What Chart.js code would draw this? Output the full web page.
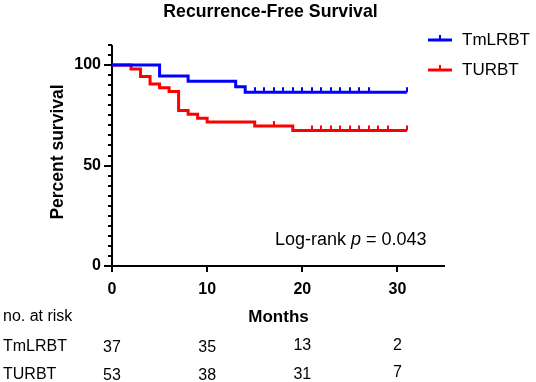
<!DOCTYPE html>
<html>
<head>
<meta charset="utf-8">
<script src="https://cdn.jsdelivr.net/npm/chart.js@4"></script>
<style>
html,body{margin:0;padding:0;background:#fff;}
#wrap{width:536px;height:382px;position:relative;}
</style>
</head>
<body>
<div id="wrap"><canvas id="c"></canvas></div>
<script>
// ---- data ----
const groups = ['TmLRBT', 'TURBT'];
const tmTimes = [0, 5, 8, 13, 14, 31];
const tmSurv  = [100, 94.6, 91.9, 89.2, 86.5, 86.5];
const tuTimes = [0, 2, 3, 4, 5, 6, 7, 8, 9, 10, 15, 19, 31];
const tuSurv  = [100, 98.1, 94.3, 90.6, 88.7, 86.8, 77.4, 75.5, 73.6, 71.7, 69.7, 67.4, 67.4];
const tmCensor = [15, 16, 17, 18, 19, 20, 21, 22, 23, 24, 25, 26, 27, 31];
const tuCensor = [17, 21, 22, 23, 24, 25, 26, 27, 28, 29, 31];
const xTickVals = [0, 10, 20, 30];
const yTickVals = [0, 50, 100];
const riskTm = [37, 35, 13, 2];
const riskTu = [53, 38, 31, 7];
const colors = ['#0000FF', '#FF0000'];

const FONT = '"Liberation Sans", Arial, sans-serif';

function pts(t, s) { return t.map((v, i) => ({x: v, y: s[i]})); }
function survAt(times, surv, t) {
  let v = surv[0];
  for (let i = 0; i < times.length; i++) if (times[i] <= t) v = surv[i];
  return v;
}

const deco = {
  id: 'deco',
  beforeDatasetsDraw(chart) {
    const ctx = chart.ctx, xs = chart.scales.x, ys = chart.scales.y;
    const x0 = xs.getPixelForValue(0), y0 = ys.getPixelForValue(0);
    ctx.save();
    ctx.strokeStyle = '#000'; ctx.lineWidth = 2; ctx.lineCap = 'butt';
    ctx.beginPath();
    ctx.moveTo(x0, ys.getPixelForValue(110)); ctx.lineTo(x0, y0 + 1); ctx.stroke();
    for (let v = 0; v <= 110; v += 5) {
      const y = Math.round(ys.getPixelForValue(v));
      const len = (v % 50 === 0) ? 8 : 4;
      ctx.beginPath(); ctx.moveTo(x0 - len, y); ctx.lineTo(x0, y); ctx.stroke();
    }
    ctx.beginPath();
    ctx.moveTo(x0 - 1, y0); ctx.lineTo(xs.getPixelForValue(35), y0); ctx.stroke();
    xTickVals.forEach(v => {
      const x = Math.round(xs.getPixelForValue(v));
      ctx.beginPath(); ctx.moveTo(x, y0); ctx.lineTo(x, y0 + 6); ctx.stroke();
    });
    ctx.restore();
  },
  afterDatasetsDraw(chart) {
    const ctx = chart.ctx, xs = chart.scales.x, ys = chart.scales.y;
    ctx.save();
    const cens = [[tmCensor, tmTimes, tmSurv], [tuCensor, tuTimes, tuSurv]];
    cens.forEach((c, k) => {
      ctx.strokeStyle = colors[k]; ctx.lineWidth = 2;
      c[0].forEach(t => {
        const x = Math.round(xs.getPixelForValue(t));
        const y = ys.getPixelForValue(survAt(c[1], c[2], t));
        ctx.beginPath(); ctx.moveTo(x, y); ctx.lineTo(x, y - 5); ctx.stroke();
      });
    });
    ctx.fillStyle = '#000';
    ctx.font = 'bold 16px ' + FONT;
    ctx.textAlign = 'right'; ctx.textBaseline = 'middle';
    yTickVals.forEach(v => ctx.fillText(String(v), 101, ys.getPixelForValue(v)));
    ctx.textAlign = 'center'; ctx.textBaseline = 'alphabetic';
    xTickVals.forEach(v => ctx.fillText(String(v), xs.getPixelForValue(v), 294));
    ctx.font = 'bold 17px ' + FONT;
    ctx.fillText('Months', xs.getPixelForValue(17.5), 322);
    ctx.save();
    ctx.font = 'bold 17.5px ' + FONT;
    ctx.translate(63, 152); ctx.rotate(-Math.PI / 2);
    ctx.textBaseline = 'alphabetic';
    ctx.fillText('Percent survival', 0, 0);
    ctx.restore();
    ctx.font = 'bold 17.7px ' + FONT;
    ctx.fillText('Recurrence-Free Survival', 270.5, 17);
    ctx.font = '17px ' + FONT;
    ctx.textAlign = 'left'; ctx.textBaseline = 'middle';
    const legY = [40, 70];
    groups.forEach((g, k) => {
      ctx.strokeStyle = colors[k]; ctx.lineWidth = 3;
      ctx.beginPath(); ctx.moveTo(428, legY[k]); ctx.lineTo(452, legY[k]); ctx.stroke();
      ctx.lineWidth = 2;
      ctx.beginPath(); ctx.moveTo(440, legY[k]); ctx.lineTo(440, legY[k] - 5); ctx.stroke();
      ctx.fillStyle = '#000';
      ctx.fillText(g, 462, legY[k]);
    });
    ctx.font = '18px ' + FONT; ctx.textBaseline = 'alphabetic';
    let lx = 275; const ly = 245;
    const parts = [['Log-rank ', '18px '], ['p', 'italic 18px '], [' = 0.043', '18px ']];
    parts.forEach(p => {
      ctx.font = p[1] + FONT; ctx.fillText(p[0], lx, ly); lx += ctx.measureText(p[0]).width;
    });
    ctx.font = '16px ' + FONT;
    ctx.textAlign = 'left';
    ctx.fillText('no. at risk', 3, 321);
    ctx.fillText(groups[0], 3, 351);
    ctx.fillText(groups[1], 3, 379);
    ctx.textAlign = 'center';
    const rowY = [[352, 352, 350, 350], [380, 380, 379, 377]];
    [riskTm, riskTu].forEach((r, k) => {
      r.forEach((n, i) => ctx.fillText(String(n), xs.getPixelForValue(xTickVals[i]), rowY[k][i]));
    });
    ctx.restore();
  }
};

new Chart(document.getElementById('c'), {
  type: 'line',
  data: {
    datasets: [
      {label: groups[0], data: pts(tmTimes, tmSurv), borderColor: colors[0], borderWidth: 3, stepped: 'before', pointRadius: 0, fill: false},
      {label: groups[1], data: pts(tuTimes, tuSurv), borderColor: colors[1], borderWidth: 3, stepped: 'before', pointRadius: 0, fill: false}
    ]
  },
  options: {
    responsive: true, maintainAspectRatio: false, animation: false, devicePixelRatio: 1,
    layout: {padding: {left: 112, right: 91, top: 45, bottom: 116}},
    plugins: {legend: {display: false}, title: {display: false}, tooltip: {enabled: false}},
    scales: {
      x: {type: 'linear', min: 0, max: 35, display: false},
      y: {type: 'linear', min: 0, max: 110, display: false}
    }
  },
  plugins: [deco]
});
</script>
</body>
</html>
